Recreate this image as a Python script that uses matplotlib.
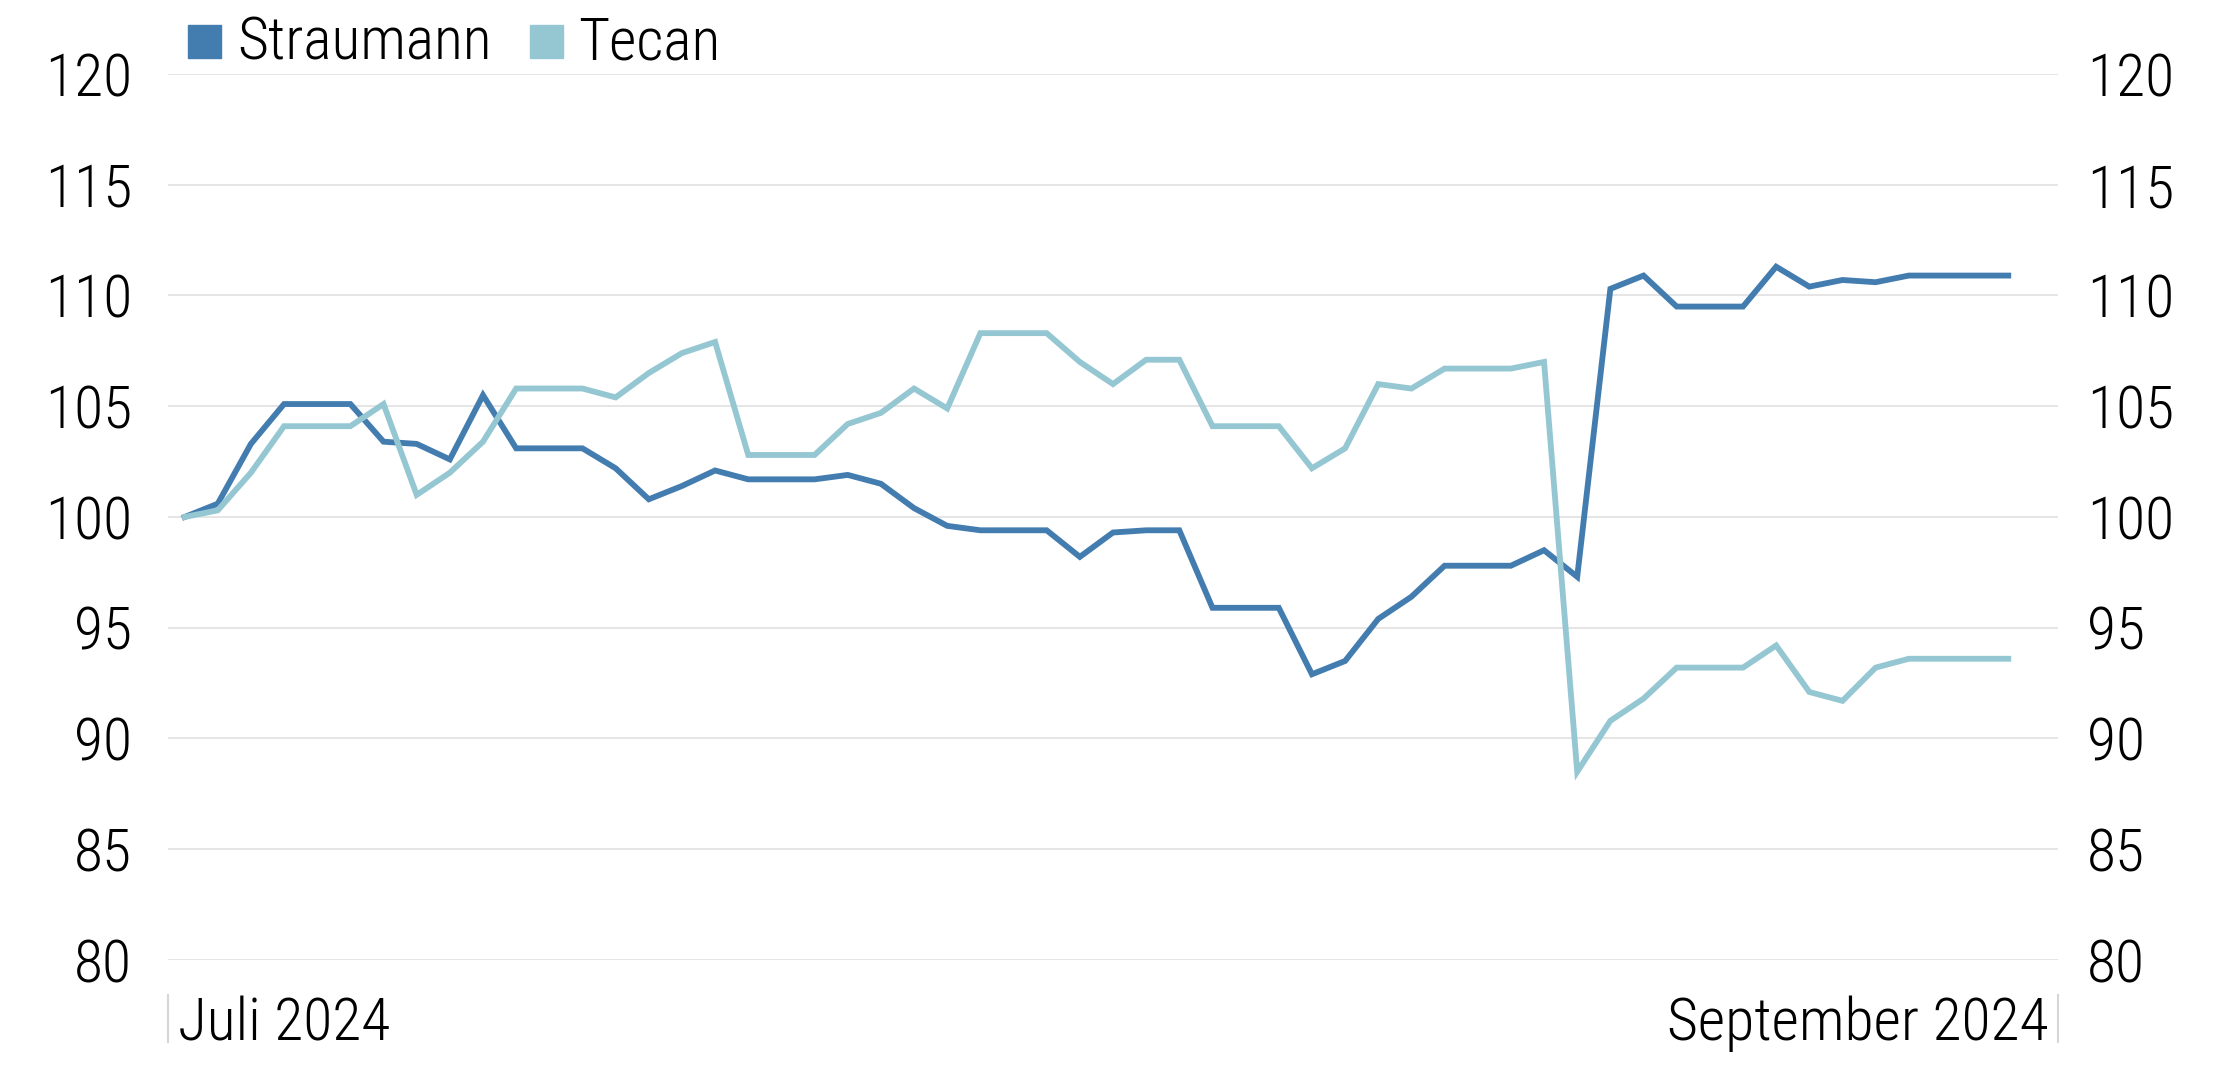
import numpy as np
import matplotlib
matplotlib.use("Agg")
import matplotlib.pyplot as plt
from matplotlib import font_manager as fm
from matplotlib.patches import Rectangle

# indexed performance, daily (weekends flat)
straumann = [100.0, 100.6, 103.3, 105.1, 105.1, 105.1, 103.4, 103.3, 102.6, 105.5,
             103.1, 103.1, 103.1, 102.2, 100.8, 101.4, 102.1, 101.7, 101.7, 101.7,
             101.9, 101.5, 100.4, 99.6, 99.4, 99.4, 99.4, 98.2, 99.3, 99.4,
             99.4, 95.9, 95.9, 95.9, 92.9, 93.5, 95.4, 96.4, 97.8, 97.8,
             97.8, 98.5, 97.3, 110.3, 110.9, 109.5, 109.5, 109.5, 111.3, 110.4,
             110.7, 110.6, 110.9, 110.9, 110.9, 110.9]
tecan = [100.0, 100.3, 102.0, 104.1, 104.1, 104.1, 105.1, 101.0, 102.0, 103.4,
         105.8, 105.8, 105.8, 105.4, 106.5, 107.4, 107.9, 102.8, 102.8, 102.8,
         104.2, 104.7, 105.8, 104.9, 108.3, 108.3, 108.3, 107.0, 106.0, 107.1,
         107.1, 104.1, 104.1, 104.1, 102.2, 103.1, 106.0, 105.8, 106.7, 106.7,
         106.7, 107.0, 88.5, 90.8, 91.8, 93.2, 93.2, 93.2, 94.2, 92.1,
         91.7, 93.2, 93.6, 93.6, 93.6, 93.6]
series_names = ["Straumann", "Tecan"]
series_colors = ["#437db0", "#95c7d3"]
y_ticks = [80, 85, 90, 95, 100, 105, 110, 115, 120]
period_labels = ["Juli 2024", "September 2024"]

days = np.arange(len(straumann))

# pick a condensed face if there is one
available = {f.name for f in fm.fontManager.ttflist}
family = "DejaVu Sans"
for cand in ["Roboto Condensed", "Liberation Sans Narrow", "Roboto"]:
    if cand in available:
        family = cand
        break
plt.rcParams["font.family"] = [family, "DejaVu Sans"]
fsize = 43

W, H = 2226, 1077
fig = plt.figure(figsize=(W / 100, H / 100), dpi=100)
ax = fig.add_axes([168 / W, 1 - 960 / H, (2058 - 168) / W, (960 - 74) / H])

for vals, col in zip([straumann, tecan], series_colors):
    ax.plot(days, vals, color=col, lw=4.2, solid_joinstyle="miter", zorder=3)

ax.set_ylim(80, 120)
ax.set_xlim(-0.5, len(days) + 0.5)
ax.set_yticks(y_ticks)
ax.set_xticks([])
ax.grid(axis="y", color="#e3e3e3", lw=1.3)
for s in ax.spines.values():
    s.set_visible(False)
ax.tick_params(axis="y", length=0, pad=26, labelsize=fsize)
for lab in ax.get_yticklabels():
    lab.set_fontweight("light")

ax2 = ax.twinx()
ax2.set_ylim(80, 120)
ax2.set_yticks(y_ticks)
for s in ax2.spines.values():
    s.set_visible(False)
ax2.tick_params(axis="y", length=0, pad=21, labelsize=fsize)
for lab in ax2.get_yticklabels():
    lab.set_fontweight("light")

# period labels + small marker lines under the plot
ax.text(0.0053, -0.0903, period_labels[0], transform=ax.transAxes, ha="left",
        va="baseline", fontsize=fsize, fontweight="light")
ax.text(0.9952, -0.0903, period_labels[1], transform=ax.transAxes, ha="right",
        va="baseline", fontsize=fsize, fontweight="light")
for xa in [0, 1]:
    ax.plot([xa, xa], [-0.040, -0.093], transform=ax.transAxes, clip_on=False,
            color="#d6d6d6", lw=1.5)

# legend drawn by hand: square + name
fig.canvas.draw()
rend = fig.canvas.get_renderer()
x0 = 188
sq = 33
for name, col in zip(series_names, series_colors):
    fig.patches.append(Rectangle((x0 / W, 1 - 58 / H), sq / W, sq / H,
                                 transform=fig.transFigure, color=col))
    t = fig.text((x0 + sq + 16) / W, 1 - 59 / H, name, ha="left", va="baseline",
                 fontsize=fsize, fontweight="light")
    bb = t.get_window_extent(renderer=rend)
    x0 = bb.x1 + 38

fig.savefig("out.png", dpi=100)
